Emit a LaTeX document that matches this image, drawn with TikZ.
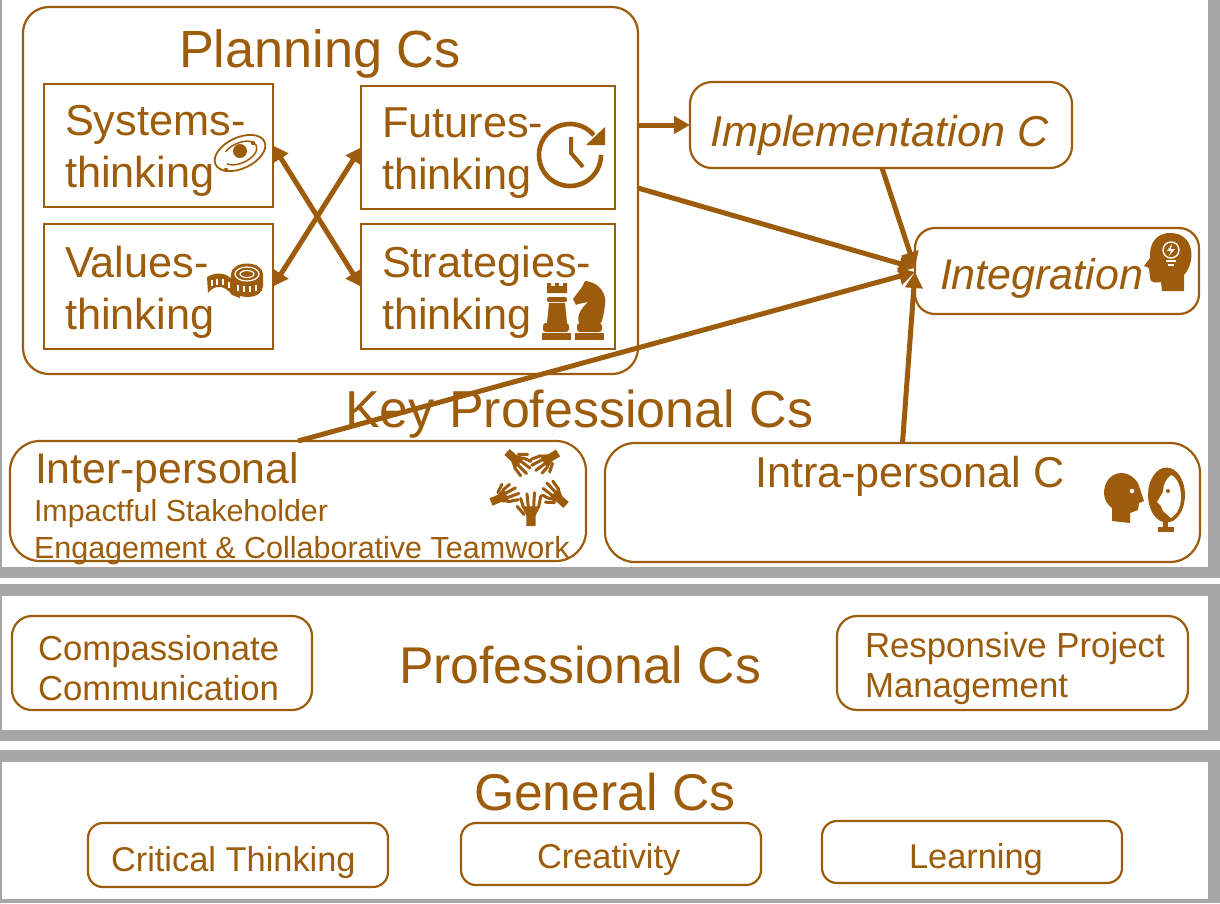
\documentclass[tikz,border=0pt]{standalone}
\usepackage{fontspec}
\setmainfont{Liberation Sans}
\usetikzlibrary{arrows.meta}

\definecolor{capbrown}{HTML}{9C5C0C}
\definecolor{bandgray}{HTML}{A6A6A6}

\tikzset{
  capbox/.style={draw=capbrown, line width=2.2pt, rounded corners=#1, anchor=north west, inner sep=0pt, outer sep=0pt},
  thinkbox/.style={draw=capbrown, line width=1.6pt, anchor=north west, inner sep=0pt, outer sep=0pt},
  lbl/.style={text=capbrown, anchor=base west, inner sep=0pt, outer sep=0pt, align=left, font=\fontsize{#1}{#1}\selectfont},
  thinklbl/.style={text=capbrown, anchor=base west, inner sep=0pt, outer sep=0pt, align=left, font=\fontsize{43.3}{52}\selectfont},
  smalllbl/.style={text=capbrown, anchor=base west, inner sep=0pt, outer sep=0pt, align=left, font=\fontsize{#1}{40}\selectfont},
  arrowline/.style={draw=capbrown, line width=5pt, -{Triangle[length=16pt,width=17pt]}},
  twoway/.style={draw=capbrown, line width=5pt, {Triangle[length=15pt,width=17pt]}-{Triangle[length=15pt,width=17pt]}},
  capHand/.pic={
    \fill[capbrown] (-4,0) -- (4,0) -- (4,-9) -- (8,-17) -- (-8,-17) -- (-4,-9) -- cycle;
    \draw[capbrown, line width=3pt, line cap=round] (-6.5,-16) -- (-9,-24) (-2.3,-16) -- (-3.5,-28) (2.3,-16) -- (3,-29) (6.5,-16) -- (8.5,-26);
    \draw[capbrown, line width=3pt, line cap=round] (-6,-10) -- (-12,-17);
  }
}

\begin{document}
\begin{tikzpicture}[x=1pt, y=-1pt]

  \useasboundingbox (0,0) rectangle (1220,903);

  % Gray bands
  \fill[bandgray] (0,0) rectangle (1220,578);
  \fill[white] (2,0) rectangle (1208,567);
  \fill[bandgray] (0,584) rectangle (1220,741);
  \fill[white] (2,596) rectangle (1208,730);
  \fill[bandgray] (0,750) rectangle (1220,903);
  \fill[white] (2,762) rectangle (1208,899);

  % Planning group
  \node[capbox=26pt, minimum width=615, minimum height=367] (planning) at (23,7) {};
  \node[lbl=52.3] (planningtxt) at (179,67) {Planning Cs};

  \node[thinkbox, minimum width=229, minimum height=123] (systems) at (44,84) {};
  \node[thinkbox, minimum width=229, minimum height=125] (values) at (44,224) {};
  \node[thinkbox, minimum width=254, minimum height=123] (futures) at (361,86) {};
  \node[thinkbox, minimum width=254, minimum height=125] (strategies) at (361,224) {};

  \node[thinklbl] (systemstxt) at (65,187) {Systems-\\thinking};
  \node[thinklbl] (valuestxt) at (65,329) {Values-\\thinking};
  \node[thinklbl] (futurestxt) at (382,189) {Futures-\\thinking};
  \node[thinklbl] (strategiestxt) at (382,329) {Strategies-\\thinking};

  % Implementation and integration
  \node[capbox=22pt, minimum width=382, minimum height=86] (implementation) at (690,82) {};
  \node[lbl=43.2] (implementationtxt) at (710,146) {\itshape Implementation C};
  \node[capbox=20pt, minimum width=284, minimum height=86] (integration) at (915,228) {};
  \node[lbl=43] (integrationtxt) at (940,289) {\itshape Integration};

  % Key professional group
  \node[lbl=52] (keytxt) at (345,427) {Key Professional Cs};
  \node[capbox=30pt, minimum width=576, minimum height=120] (inter) at (10,441) {};
  \node[lbl=42.8] (intertxt) at (35,483) {Inter-personal};
  \node[lbl=30.4] (impactfultxt) at (34,521) {Impactful Stakeholder};
  \node[lbl=30.5] (engagementtxt) at (34,558) {Engagement \& Collaborative Teamwork};
  \node[capbox=30pt, minimum width=595, minimum height=119] (intra) at (605,443) {};
  \node[lbl=43.2] (intratxt) at (755,487) {Intra-personal C};

  % Professional group
  \node[capbox=20pt, minimum width=300, minimum height=94] (compassion) at (12,616) {};
  \node[smalllbl=34.7] (compassiontxt) at (38,700) {Compassionate\\Communication};
  \node[lbl=51.7] (professionaltxt) at (399,683) {Professional Cs};
  \node[capbox=20pt, minimum width=351, minimum height=94] (project) at (837,616) {};
  \node[smalllbl=34.8] (projecttxt) at (865,697) {Responsive Project\\Management};

  % General group
  \node[lbl=51.7] (generaltxt) at (474,810) {General Cs};
  \node[capbox=15pt, minimum width=300, minimum height=64] (critical) at (88,823) {};
  \node[smalllbl=34.4] (criticaltxt) at (111,871) {Critical Thinking};
  \node[capbox=15pt, minimum width=300, minimum height=62] (creativity) at (461,823) {};
  \node[smalllbl=34.4] (creativitytxt) at (537,868) {Creativity};
  \node[capbox=15pt, minimum width=300, minimum height=62] (learning) at (822,821) {};
  \node[smalllbl=34.4] (learningtxt) at (909,868) {Learning};

  % Arrows
  \draw[twoway] (systems.east) -- (strategies.west);
  \draw[twoway] (values.east) -- (futures.west);
  \draw[arrowline] ([yshift=65.5pt]planning.east) -- (implementation.west);
  \draw[arrowline] ([yshift=2.5pt]planning.east) -- ([yshift=3pt]integration.west);
  \draw[arrowline] ([xshift=1pt]implementation.south) -- ([yshift=3pt]integration.west);
  \draw[arrowline] (inter.north) -- ([yshift=-1pt]integration.west);
  \draw[arrowline] (intra.north) -- ([yshift=-1pt]integration.west);

  % Galaxy
  \begin{scope}[capbrown, rotate around={25:(240,153)}]
    \draw[line width=1.8pt] (240,153) ellipse [x radius=27, y radius=15.5];
    \draw[line width=1.5pt, dash pattern=on 40pt off 14pt] (240,153) ellipse [x radius=18, y radius=10];
  \end{scope}
  \fill[capbrown] (240,151) circle [radius=7];
  \fill[capbrown] (253,143) circle [radius=2.2];
  \fill[capbrown] (226,170) circle [radius=2.2];

  % Clock
  \draw[capbrown, line width=4.6pt] (570,155) ++(0:31) arc [start angle=0, end angle=320, radius=31];
  \fill[capbrown] (605,127) -- (605,145) -- (586,145) -- cycle;
  \draw[capbrown, line width=4pt] (571,137) -- (571,153) -- (583,167);

  % Tape
  \fill[capbrown] (207,277) .. controls (216,272) and (224,272) .. (232,279) -- (240,285) -- (240,298) -- (232,295) .. controls (225,285) and (215,284) .. (208,293) -- cycle;
  \fill[capbrown] (231,274) -- (231,286) .. controls (232,294) and (240,297) .. (247,297) .. controls (256,297) and (263,293) .. (263,286) -- (263,274) -- cycle;
  \fill[capbrown] (247,274) ellipse [x radius=16, y radius=10.5];
  \draw[white, line width=1.2pt] (247,274) ellipse [x radius=12, y radius=7];
  \draw[white, line width=1.2pt] (247,274) ellipse [x radius=7, y radius=3.5];
  \foreach \tickx/\ticky in {212/280, 217/279, 223/279, 229/282, 238/285, 244/286, 250/286, 256/285}
    \draw[white, line width=1.3pt] (\tickx,\ticky) -- (\tickx,\ticky+6);

  % Rook
  \fill[capbrown] (547,283) -- (551,283) -- (551,286) -- (555,286) -- (555,283) -- (559,283) -- (559,286) -- (563,286) -- (563,283) -- (567,283) -- (567,293) -- (547,293) -- cycle;
  \fill[capbrown, rounded corners=2pt] (547,297) rectangle (567,302);
  \fill[capbrown] (549,303) -- (565,303) -- (567,323) -- (547,323) -- cycle;
  \fill[capbrown, rounded corners=3pt] (543,323) rectangle (569,332);
  \fill[capbrown] (542,333) rectangle (571,340);

  % Knight
  \fill[capbrown] (575,333) rectangle (604,340);
  \fill[capbrown, rounded corners=3pt] (577,323) rectangle (602,332);
  \fill[capbrown] (579,323) .. controls (576,315) and (582,308) .. (588,302) -- (578,304) -- (576,305) -- (573,299) -- (582,287) -- (585,281) .. controls (600,282) and (607,295) .. (605,305) .. controls (604,313) and (603,318) .. (601,323) -- cycle;

  % Head with bulb
  \fill[capbrown] (1184,291) -- (1184,275) .. controls (1196,262) and (1195,233) .. (1170,233) .. controls (1155,233) and (1149,245) .. (1150,258) -- (1144,266) -- (1149,268) -- (1150,278) .. controls (1150,283) and (1157,283) .. (1161,282) -- (1162,291) -- cycle;
  \draw[white, line width=1.4pt] (1171,250) circle [radius=8];
  \fill[white] (1172,244) -- (1167,251) -- (1171,251) -- (1169,256) -- (1175,249) -- (1171,249) -- cycle;
  \draw[white, line width=1.6pt] (1166,261) -- (1176,261) (1168,265) -- (1174,265);

  % Hands
  \pic[scale=1.15] at (531,526) {capHand};
  \pic[rotate=47] at (566,505) {capHand};
  \pic[rotate=121] at (558,453) {capHand};
  \pic[rotate=-132] at (507,452) {capHand};
  \pic[rotate=-67] at (491,502) {capHand};

  % Head and mirror
  \fill[capbrown] (1112,521) -- (1130,523) -- (1130,513) -- (1138,510) -- (1139,503) -- (1144,501) -- (1138,483) .. controls (1134,477) and (1128,473) .. (1122,473) .. controls (1110,473) and (1104,483) .. (1104,493) .. controls (1104,500) and (1108,505) .. (1112,508) -- cycle;
  \fill[white] (1132,491) circle [radius=2.3];
  \fill[capbrown] (1166.5,495) ellipse [x radius=18.5, y radius=27.5];
  \fill[white] (1171,475) .. controls (1178,478) and (1181,488) .. (1181,497) .. controls (1181,507) and (1177,514) .. (1171,518) -- (1163,511) -- (1161,506) -- (1157,502) -- (1163,492) .. controls (1163,485) and (1166,479) .. (1171,475) -- cycle;
  \fill[capbrown] (1168,491) circle [radius=2];
  \fill[capbrown] (1163,521) rectangle (1168,527);
  \fill[capbrown] (1158,527) rectangle (1174,532);

\end{tikzpicture}
\end{document}
